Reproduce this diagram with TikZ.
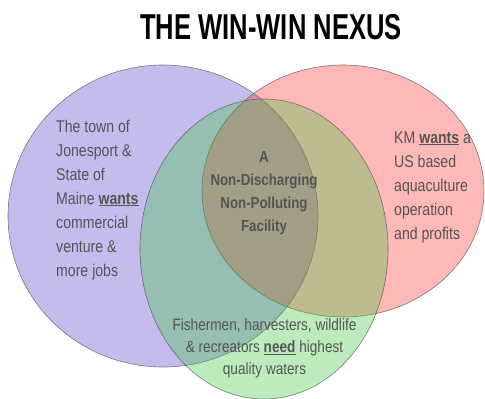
\documentclass[tikz,border=0pt]{standalone}
\usepackage{fontspec}
\setmainfont{Liberation Sans}
\newfontfamily\bodyfont{Liberation Sans}[FakeStretch=0.83]
\newfontfamily\titlefont{Liberation Sans}[FakeStretch=0.71]
\definecolor{vpurple}{RGB}{76,52,203}
\definecolor{vred}{RGB}{255,40,40}
\definecolor{vgreen}{RGB}{58,197,58}
\definecolor{txt}{RGB}{85,85,85}
\newcommand\ulw[1]{\underline{\textbf{#1}}}
\tikzset{
  venn/.style={fill opacity=0.33, draw opacity=0.7, draw=black!70, line width=0.6pt},
  body/.style={inner sep=0pt, text=txt, font=\bodyfont\fontsize{17}{20}\selectfont},
  bodyl/.style={body, anchor=base west},
  bodyc/.style={body, anchor=base},
  ctr/.style={body, anchor=base, font=\bodyfont\bfseries\fontsize{16}{19}\selectfont},
}
\begin{document}
\begin{tikzpicture}[x=1pt,y=-1pt]
\useasboundingbox (0,0) rectangle (485,399);
\fill[white] (0,0) rectangle (485,399);
\path[venn, fill=vpurple] (163,216) ellipse [x radius=155, y radius=151];
\path[venn, fill=vred] (343,191) ellipse [x radius=141, y radius=126];
\path[venn, fill=vgreen] (264,249) ellipse [x radius=124, y radius=150];

\node[inner sep=0pt, anchor=base, font=\titlefont\bfseries\fontsize{36}{40}\selectfont] (title) at (271,39) {THE WIN-WIN NEXUS};

\node[bodyl] (l1) at (56,132) {The town of};
\node[bodyl] (l2) at (56,156) {Jonesport \&};
\node[bodyl] (l3) at (56,180) {State of};
\node[bodyl] (l4) at (56,204) {Maine \ulw{wants}};
\node[bodyl] (l5) at (56,228) {commercial};
\node[bodyl] (l6) at (56,252) {venture \&};
\node[bodyl] (l7) at (56,276) {more jobs};

\node[bodyl] (r1) at (394,143) {KM \ulw{wants} a};
\node[bodyl] (r2) at (394,167) {US based};
\node[bodyl] (r3) at (394,191) {aquaculture};
\node[bodyl] (r4) at (394,215) {operation};
\node[bodyl] (r5) at (394,239) {and profits};

\node[ctr] (c1) at (264,162) {A};
\node[ctr] (c2) at (264,185) {Non-Discharging};
\node[ctr] (c3) at (264,208) {Non-Polluting};
\node[ctr] (c4) at (264,231) {Facility};

\node[bodyc, font=\bodyfont\fontsize{16.4}{20}\selectfont] (b1) at (264.5,330) {Fishermen, harvesters, wildlife};
\node[bodyc, font=\bodyfont\fontsize{16.4}{20}\selectfont] (b2) at (264.5,352.5) {\& recreators \ulw{need} highest};
\node[bodyc, font=\bodyfont\fontsize{16.4}{20}\selectfont] (b3) at (264.5,374.5) {quality waters};
\end{tikzpicture}
\end{document}
